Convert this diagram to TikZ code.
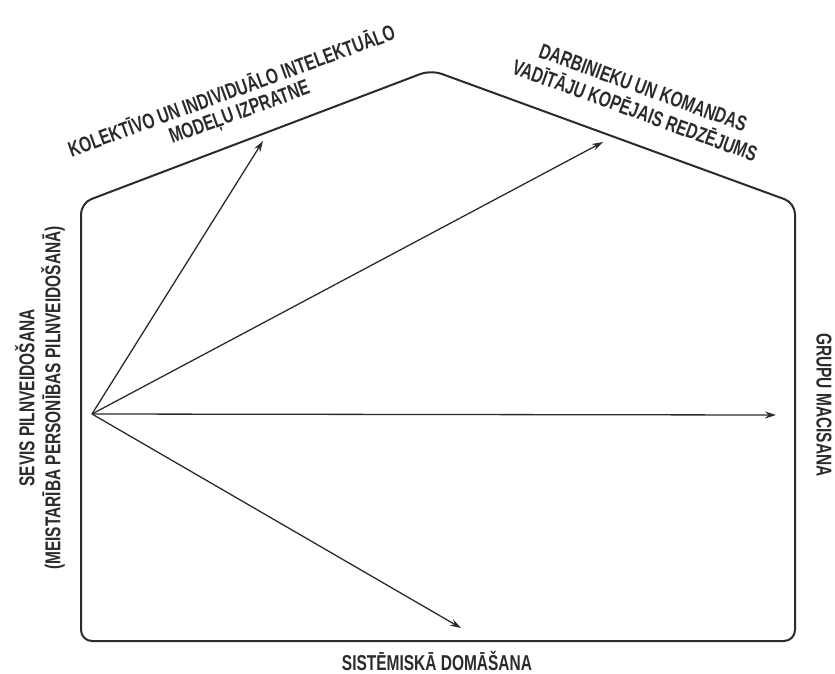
\documentclass[tikz,border=0pt]{standalone}
\usepackage{fontspec}
\newfontfamily\capfont{Liberation Sans}[FakeStretch=0.72]
\usetikzlibrary{arrows.meta}
\definecolor{ink}{HTML}{2B2B2B}
% two-line centred label set in the condensed bold face
\newcommand\twoline[2]{\fontsize{21.5}{24}\selectfont\capfont\bfseries
  \renewcommand\arraystretch{0.92}\begin{tabular}{@{}c@{}}#1\\#2\end{tabular}}
\newcommand\oneline[1]{\fontsize{21.5}{24}\selectfont\capfont\bfseries #1}
\begin{document}
\begin{tikzpicture}[x=1pt,y=-1pt,
  outline/.style={draw=ink,line width=2pt,rounded corners=11pt,line join=round},
  ray/.style={draw=ink,line width=1.3pt,-{Stealth[length=11pt,width=7pt]}},
  caption/.style={text=ink,inner sep=0pt}]
\useasboundingbox (0,0) rectangle (835,674);

% house-shaped frame
\coordinate (bl) at (81,641);
\coordinate (tl) at (81,203);
\coordinate (apex) at (431,70);
\coordinate (tr) at (795,203);
\coordinate (br) at (795,641);
\draw[outline] (bl) -- (tl) -- (apex) -- (tr) -- (br) -- cycle;

% rays from the common origin
\coordinate (o) at (92,414);
\coordinate (t1) at (263,141);
\coordinate (t2) at (603,142);
\coordinate (t3) at (776,415);
\coordinate (t4) at (461,628);
\draw[ray] (o) -- (t1);
\draw[ray] (o) -- (t2);
\draw[ray] (o) -- (t3);
\draw[ray] (o) -- (t4);

% labels
\node[caption,rotate=20] (lroof) at (236,103) {\twoline{KOLEKTĪVO UN INDIVIDUĀLO INTELEKTUĀLO}{MODEĻU IZPRATNE}};
\node[caption,rotate=-20] (rroof) at (638,102) {\twoline{DARBINIEKU UN KOMANDAS}{VADĪTĀJU KOPĒJAIS REDZĒJUMS}};
\node[caption,rotate=90] (lwall) at (41,398) {\twoline{SEVIS PILNVEIDOŠANA}{(MEISTARĪBA PERSONĪBAS PILNVEIDOŠANĀ)}};
\node[caption,rotate=-90] (rwall) at (824,405) {\oneline{GRUPU MACISANA}};
\node[caption] (floor) at (437,661) {\oneline{SISTĒMISKĀ DOMĀŠANA}};
\end{tikzpicture}
\end{document}
